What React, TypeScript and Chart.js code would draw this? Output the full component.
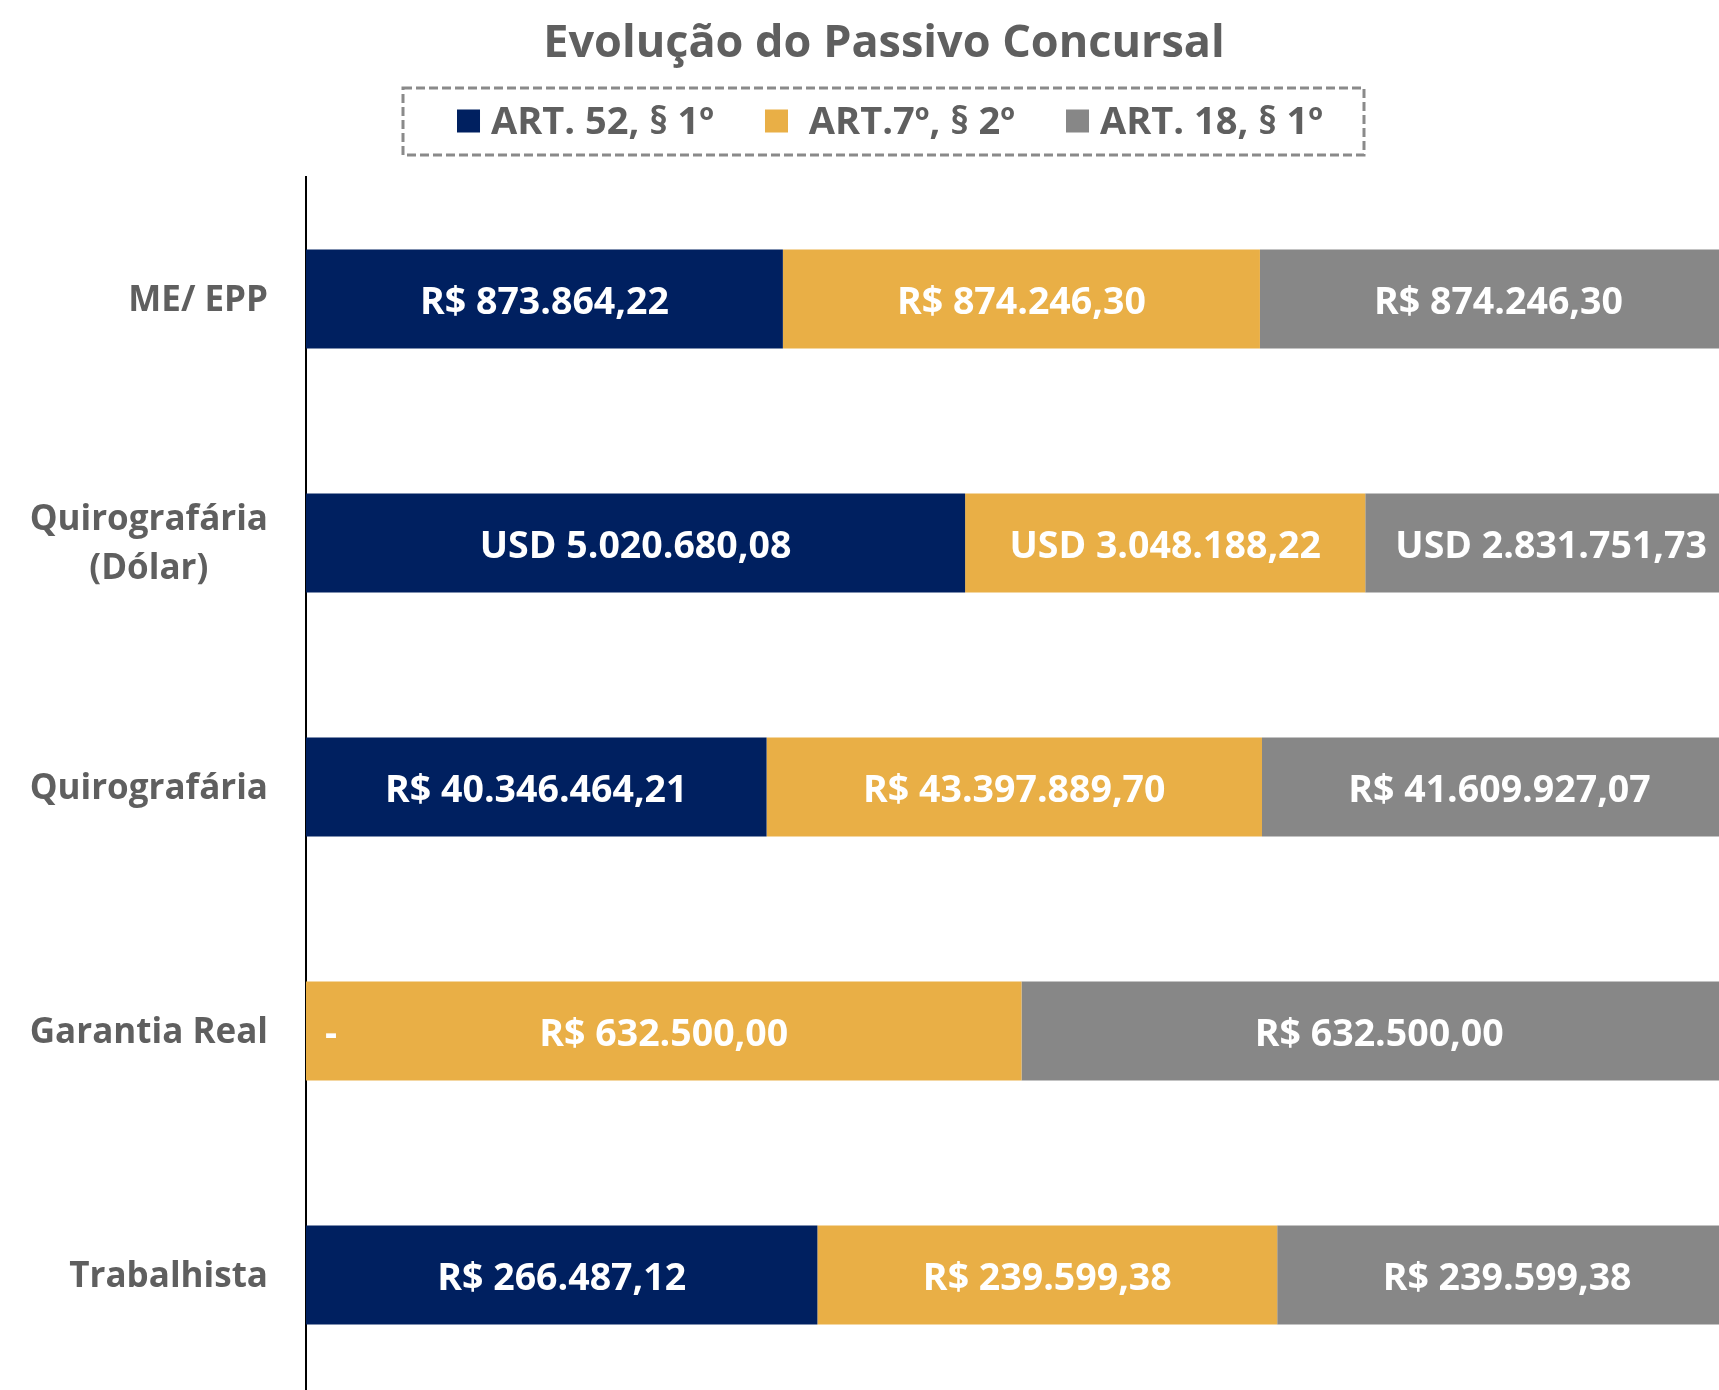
import React, { useEffect, useRef } from "react";
import { Chart, registerables } from "chart.js";

Chart.register(...registerables);

const titleText = "Evolução do Passivo Concursal";
const categories: string[][] = [
  ["ME/ EPP"],
  ["Quirografária", "(Dólar)"],
  ["Quirografária"],
  ["Garantia Real"],
  ["Trabalhista"],
];
const currencies = ["R$", "USD", "R$", "R$", "R$"];
const seriesNames = ["ART. 52, § 1º", " ART.7º, § 2º", "ART. 18, § 1º"];
const art52Values = [873864.22, 5020680.08, 40346464.21, 0, 266487.12];
const art7Values = [874246.3, 3048188.22, 43397889.7, 632500.0, 239599.38];
const art18Values = [874246.3, 2831751.73, 41609927.07, 632500.0, 239599.38];
const seriesColors = ["#002060", "#E9AF46", "#878787"];

const rawSeries = [art52Values, art7Values, art18Values];
const totals = categories.map((_, i) => rawSeries.reduce((s, arr) => s + arr[i], 0));
const pctSeries = rawSeries.map((arr) => arr.map((v, i) => (v / totals[i]) * 100));

const FONT = "'Open Sans', 'DejaVu Sans', sans-serif";
const TEXT_GRAY = "#5f5f5f";

function fmtNumber(v: number): string {
  const [intPart, dec] = v.toFixed(2).split(".");
  const withDots = intPart.replace(/\B(?=(\d{3})+(?!\d))/g, ".");
  return withDots + "," + dec;
}

function labelFor(seriesIdx: number, i: number): string {
  const v = rawSeries[seriesIdx][i];
  if (v === 0) return "-";
  return currencies[i] + " " + fmtNumber(v);
}

const valueLabelsPlugin = {
  id: "valueLabels",
  afterDatasetsDraw(chart: any) {
    const ctx = chart.ctx;
    ctx.save();
    ctx.font = `bold 37.5px ${FONT}`;
    ctx.fillStyle = "#ffffff";
    ctx.textBaseline = "middle";
    ctx.textAlign = "center";
    chart.data.datasets.forEach((_: any, di: number) => {
      const meta = chart.getDatasetMeta(di);
      meta.data.forEach((bar: any, i: number) => {
        const p = bar.getProps(["x", "base", "y"], true);
        const txt = labelFor(di, i);
        if (rawSeries[di][i] === 0) {
          ctx.fillText(txt, p.base + 25, p.y + 4);
        } else {
          ctx.fillText(txt, (p.x + p.base) / 2, p.y + 4);
        }
      });
    });
    ctx.restore();
  },
};

const categoryLabelsPlugin = {
  id: "categoryLabels",
  afterDraw(chart: any) {
    const ctx = chart.ctx;
    const yScale = chart.scales.y;
    const right = chart.chartArea.left - 38;
    const lineH = 49;
    ctx.save();
    ctx.font = `bold 35px ${FONT}`;
    ctx.fillStyle = TEXT_GRAY;
    ctx.textBaseline = "middle";
    ctx.textAlign = "center";
    categories.forEach((lines, i) => {
      const yc = yScale.getPixelForValue(i) + 2;
      const blockW = Math.max(...lines.map((l) => ctx.measureText(l).width));
      const cx = right - blockW / 2;
      const y0 = yc - ((lines.length - 1) * lineH) / 2;
      lines.forEach((l, li) => ctx.fillText(l, cx, y0 + li * lineH));
    });
    ctx.restore();
  },
};

const legendPlugin = {
  id: "dashedLegend",
  afterDraw(chart: any) {
    const ctx = chart.ctx;
    const box = 23;
    const gap = 11;
    const itemGap = 51;
    const yc = 122;
    ctx.save();
    ctx.font = `bold 38px ${FONT}`;
    const widths = seriesNames.map((n) => ctx.measureText(n).width);
    const total = widths.reduce((s, w) => s + box + gap + w, 0) + itemGap * (seriesNames.length - 1);
    const cx = chart.width / 2 + 6;
    let x = cx - total / 2;
    ctx.strokeStyle = "#8a8a8a";
    ctx.lineWidth = 3;
    ctx.setLineDash([9, 4]);
    ctx.strokeRect(x - 54, 88, total + 95, 67);
    ctx.setLineDash([]);
    ctx.textBaseline = "middle";
    ctx.textAlign = "left";
    seriesNames.forEach((n, i) => {
      ctx.fillStyle = seriesColors[i];
      ctx.fillRect(x, yc - box / 2 - 1, box, box);
      ctx.fillStyle = TEXT_GRAY;
      ctx.fillText(n, x + box + gap, yc + 1);
      x += box + gap + widths[i] + itemGap;
    });
    ctx.restore();
  },
};

export default function App() {
  const canvasRef = useRef<HTMLCanvasElement | null>(null);

  useEffect(() => {
    const canvas = canvasRef.current;
    if (!canvas) return;
    const chart = new Chart(canvas, {
      type: "bar",
      data: {
        labels: categories,
        datasets: seriesNames.map((name, si) => ({
          label: name,
          data: pctSeries[si],
          backgroundColor: seriesColors[si],
          borderWidth: 0,
          barPercentage: 0.405,
          categoryPercentage: 1,
        })),
      },
      options: {
        indexAxis: "y",
        responsive: false,
        animation: false,
        devicePixelRatio: 1,
        layout: { padding: { left: 31, right: 31, top: 0, bottom: 3 } },
        plugins: {
          legend: { display: false },
          tooltip: { enabled: false },
          title: {
            display: true,
            text: titleText,
            color: TEXT_GRAY,
            font: { family: FONT, size: 45, weight: "bold", lineHeight: 1.2 },
            padding: { top: 17, bottom: 106 },
          },
        },
        scales: {
          x: { display: false, stacked: true, min: 0, max: 100 },
          y: {
            stacked: true,
            afterFit: (scale: any) => {
              scale.width = 275;
            },
            ticks: { display: false },
            grid: { display: false, drawTicks: false, tickLength: 0 },
            border: { display: true, color: "#000000", width: 2 },
          },
        },
      },
      plugins: [valueLabelsPlugin, categoryLabelsPlugin, legendPlugin],
    });
    return () => chart.destroy();
  }, []);

  return (
    <div
      style={{
        position: "absolute",
        left: 0,
        top: 0,
        width: 1719,
        height: 1390,
        overflow: "hidden",
        background: "#ffffff",
      }}
    >
      <canvas
        ref={canvasRef}
        width={1768}
        height={1400}
        style={{ display: "block", width: 1768, height: 1400 }}
      />
    </div>
  );
}
